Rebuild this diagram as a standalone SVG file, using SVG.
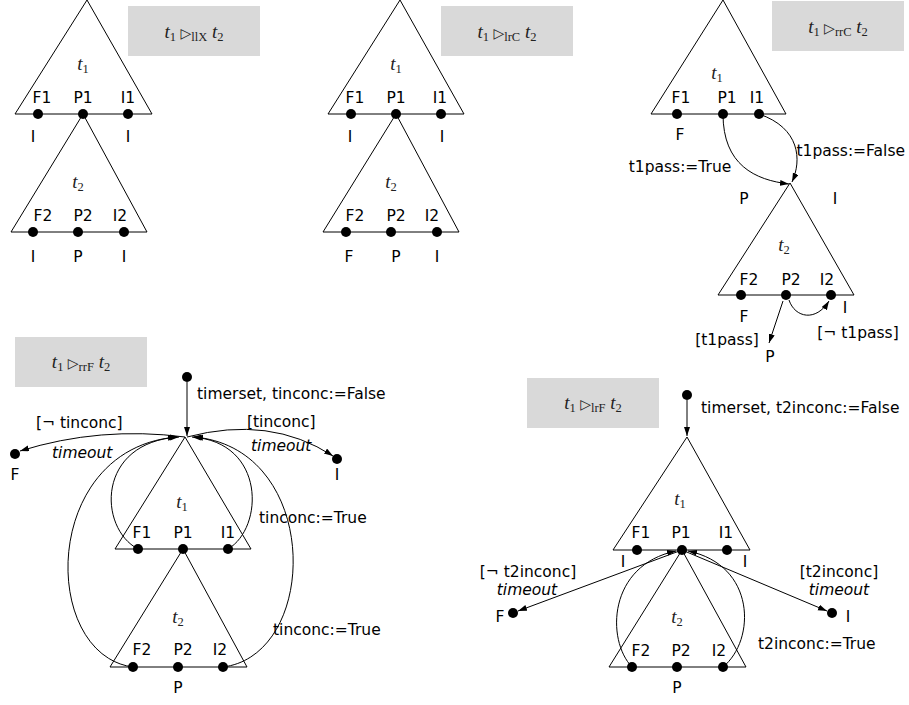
<svg xmlns="http://www.w3.org/2000/svg" width="909" height="705" viewBox="0 0 909 705">
<defs>
<style>
.tri{fill:none;stroke:#000;stroke-width:1}
.dot{fill:#000}
.box{fill:#d9d9d9}
.lbl{font-family:"DejaVu Sans","Liberation Sans",sans-serif;font-size:15.5px;fill:#000;text-anchor:middle}
.lbs{font-family:"DejaVu Sans","Liberation Sans",sans-serif;font-size:15.5px;fill:#000}
.it{font-style:italic}
.math{font-family:"Liberation Serif","DejaVu Serif",serif;font-size:19px;fill:#222;text-anchor:middle}
.mi{font-style:italic}
.sub{font-size:12.5px}
.sym{font-family:"DejaVu Sans",sans-serif;font-size:14px}
.con{fill:none;stroke:#000;stroke-width:1}
.arr{marker-end:url(#ah)}
</style>
<marker id="ah" markerUnits="userSpaceOnUse" markerWidth="10" markerHeight="7" refX="9" refY="3" orient="auto">
<path d="M0,0 L9,3 L0,6 z" fill="#000"/>
</marker>
</defs>
<rect width="909" height="705" fill="#fff"/>

<!-- ===== Diagram 1: llX ===== -->
<g id="d1-title">
<rect class="box" x="128" y="6" width="132" height="50"/>
<text class="math" x="194" y="38"><tspan class="mi">t</tspan><tspan class="sub" dy="3">1</tspan><tspan class="sym" dy="-3"> ▷</tspan><tspan class="sub" dy="3">llX</tspan><tspan dy="-3"> </tspan><tspan class="mi">t</tspan><tspan class="sub" dy="3">2</tspan></text>
</g>
<g id="d1-t1">
<polygon class="tri" points="87,0 15,114 152,114"/>
<text class="math" x="83" y="70"><tspan class="mi">t</tspan><tspan class="sub" dy="3">1</tspan></text>
<text class="lbl" x="42" y="103">F1</text><text class="lbl" x="83" y="103">P1</text><text class="lbl" x="128" y="103">I1</text>
<circle class="dot" cx="38" cy="114" r="5"/><circle class="dot" cx="83" cy="114" r="5"/><circle class="dot" cx="128" cy="114" r="5"/>
<text class="lbl" x="33" y="142">I</text><text class="lbl" x="128" y="142">I</text>
</g>
<g id="d1-t2">
<polygon class="tri" points="83,114 11,232 147,232"/>
<text class="math" x="78" y="188"><tspan class="mi">t</tspan><tspan class="sub" dy="3">2</tspan></text>
<text class="lbl" x="43" y="221">F2</text><text class="lbl" x="83" y="221">P2</text><text class="lbl" x="120" y="221">I2</text>
<circle class="dot" cx="33" cy="232" r="5"/><circle class="dot" cx="78" cy="232" r="5"/><circle class="dot" cx="124" cy="232" r="5"/>
<text class="lbl" x="33" y="262">I</text><text class="lbl" x="78" y="262">P</text><text class="lbl" x="124" y="262">I</text>
</g>

<!-- ===== Diagram 2: lrC ===== -->
<g id="d2-title">
<rect class="box" x="441" y="6" width="132" height="50"/>
<text class="math" x="507" y="38"><tspan class="mi">t</tspan><tspan class="sub" dy="3">1</tspan><tspan class="sym" dy="-3"> ▷</tspan><tspan class="sub" dy="3">lrC</tspan><tspan dy="-3"> </tspan><tspan class="mi">t</tspan><tspan class="sub" dy="3">2</tspan></text>
</g>
<g id="d2-t1">
<polygon class="tri" points="400,0 328,114 464,114"/>
<text class="math" x="396" y="70"><tspan class="mi">t</tspan><tspan class="sub" dy="3">1</tspan></text>
<text class="lbl" x="355" y="103">F1</text><text class="lbl" x="396" y="103">P1</text><text class="lbl" x="440" y="103">I1</text>
<circle class="dot" cx="351" cy="114" r="5"/><circle class="dot" cx="396" cy="114" r="5"/><circle class="dot" cx="441" cy="114" r="5"/>
<text class="lbl" x="350" y="142">I</text><text class="lbl" x="442" y="142">I</text>
</g>
<g id="d2-t2">
<polygon class="tri" points="396,114 323,232 459,232"/>
<text class="math" x="391" y="188"><tspan class="mi">t</tspan><tspan class="sub" dy="3">2</tspan></text>
<text class="lbl" x="355" y="221">F2</text><text class="lbl" x="396" y="221">P2</text><text class="lbl" x="432" y="221">I2</text>
<circle class="dot" cx="346" cy="232" r="5"/><circle class="dot" cx="391" cy="232" r="5"/><circle class="dot" cx="437" cy="232" r="5"/>
<text class="lbl" x="349" y="262">F</text><text class="lbl" x="396" y="262">P</text><text class="lbl" x="437" y="262">I</text>
</g>

<!-- ===== Diagram 3: rrC ===== -->
<g id="d3-title">
<rect class="box" x="772" y="1" width="132" height="50"/>
<text class="math" x="838" y="33"><tspan class="mi">t</tspan><tspan class="sub" dy="3">1</tspan><tspan class="sym" dy="-3"> ▷</tspan><tspan class="sub" dy="3">rrC</tspan><tspan dy="-3"> </tspan><tspan class="mi">t</tspan><tspan class="sub" dy="3">2</tspan></text>
</g>
<g id="d3-t1">
<polygon class="tri" points="723,0 651,114 786,114"/>
<text class="math" x="717" y="79"><tspan class="mi">t</tspan><tspan class="sub" dy="3">1</tspan></text>
<text class="lbl" x="681" y="103">F1</text><text class="lbl" x="727" y="103">P1</text><text class="lbl" x="757" y="103">I1</text>
<circle class="dot" cx="677" cy="114" r="5"/><circle class="dot" cx="723" cy="114" r="5"/><circle class="dot" cx="759" cy="114" r="5"/>
<text class="lbl" x="680" y="140">F</text>
</g>
<g id="d3-t2">
<polygon class="tri" points="790,183 718,295 854,295"/>
<text class="math" x="784" y="251"><tspan class="mi">t</tspan><tspan class="sub" dy="3">2</tspan></text>
<text class="lbl" x="749" y="285">F2</text><text class="lbl" x="791" y="285">P2</text><text class="lbl" x="827" y="285">I2</text>
<circle class="dot" cx="741" cy="295" r="5"/><circle class="dot" cx="786" cy="295" r="5"/><circle class="dot" cx="831" cy="295" r="5"/>
<text class="lbl" x="744" y="204">P</text><text class="lbl" x="835" y="204">I</text>
<text class="lbl" x="744" y="322">F</text><text class="lbl" x="845" y="313">I</text>
<text class="lbl" x="770" y="362">P</text>
</g>

<!-- ===== Diagram 4: rrF ===== -->
<g id="d4-title">
<rect class="box" x="15" y="337" width="132" height="50"/>
<text class="math" x="81" y="368"><tspan class="mi">t</tspan><tspan class="sub" dy="3">1</tspan><tspan class="sym" dy="-3"> ▷</tspan><tspan class="sub" dy="3">rrF</tspan><tspan dy="-3"> </tspan><tspan class="mi">t</tspan><tspan class="sub" dy="3">2</tspan></text>
</g>
<g id="d4-start"><circle class="dot" cx="187" cy="377" r="5"/></g>
<g id="d4-F"><circle class="dot" cx="15" cy="454" r="5"/><text class="lbl" x="15" y="480">F</text></g>
<g id="d4-I"><circle class="dot" cx="337" cy="459" r="5"/><text class="lbl" x="337" y="480">I</text></g>
<g id="d4-t1">
<polygon class="tri" points="185,437 115,549 251,549"/>
<text class="math" x="182" y="508"><tspan class="mi">t</tspan><tspan class="sub" dy="3">1</tspan></text>
<text class="lbl" x="142" y="538">F1</text><text class="lbl" x="183" y="538">P1</text><text class="lbl" x="228" y="538">I1</text>
<circle class="dot" cx="138" cy="549" r="5"/><circle class="dot" cx="183" cy="549" r="5"/><circle class="dot" cx="228" cy="549" r="5"/>
</g>
<g id="d4-t2">
<polygon class="tri" points="183,549 110,667 247,667"/>
<text class="math" x="178" y="623"><tspan class="mi">t</tspan><tspan class="sub" dy="3">2</tspan></text>
<text class="lbl" x="142" y="655">F2</text><text class="lbl" x="183" y="655">P2</text><text class="lbl" x="220" y="655">I2</text>
<circle class="dot" cx="133" cy="667" r="5"/><circle class="dot" cx="178" cy="667" r="5"/><circle class="dot" cx="223" cy="667" r="5"/>
<text class="lbl" x="178" y="693">P</text>
</g>

<!-- ===== Diagram 5: lrF ===== -->
<g id="d5-title">
<rect class="box" x="527" y="378" width="132" height="50"/>
<text class="math" x="593" y="409"><tspan class="mi">t</tspan><tspan class="sub" dy="3">1</tspan><tspan class="sym" dy="-3"> ▷</tspan><tspan class="sub" dy="3">lrF</tspan><tspan dy="-3"> </tspan><tspan class="mi">t</tspan><tspan class="sub" dy="3">2</tspan></text>
</g>
<g id="d5-start"><circle class="dot" cx="687" cy="395" r="5"/></g>
<g id="d5-F"><circle class="dot" cx="513" cy="613" r="5"/><text class="lbl" x="500" y="622">F</text></g>
<g id="d5-I"><circle class="dot" cx="832" cy="613" r="5"/><text class="lbl" x="848" y="622">I</text></g>
<g id="d5-t1">
<polygon class="tri" points="687,437 613,550 750,550"/>
<text class="math" x="680" y="505"><tspan class="mi">t</tspan><tspan class="sub" dy="3">1</tspan></text>
<text class="lbl" x="641" y="538">F1</text><text class="lbl" x="681" y="538">P1</text><text class="lbl" x="726" y="538">I1</text>
<circle class="dot" cx="637" cy="550" r="5"/><circle class="dot" cx="682" cy="550" r="5"/><circle class="dot" cx="727" cy="550" r="5"/>
<text class="lbl" x="623" y="567">I</text><text class="lbl" x="745" y="567">I</text>
</g>
<g id="d5-t2">
<polygon class="tri" points="682,550 609,667 746,667"/>
<text class="math" x="677" y="623"><tspan class="mi">t</tspan><tspan class="sub" dy="3">2</tspan></text>
<text class="lbl" x="641" y="656">F2</text><text class="lbl" x="681" y="656">P2</text><text class="lbl" x="719" y="656">I2</text>
<circle class="dot" cx="632" cy="667" r="5"/><circle class="dot" cx="677" cy="667" r="5"/><circle class="dot" cx="723" cy="667" r="5"/>
<text class="lbl" x="677" y="693">P</text>
</g>

<!-- ===== Connectors ===== -->
<g id="connectors">
<!-- diagram 3 -->
<path class="con arr" d="M723,114 C723,165 755,180 789,184"/>
<path class="con arr" d="M759,114 C800,128 802,160 792,182"/>
<path class="con arr" d="M783,301 L769,343"/>
<path class="con arr" d="M789,300 C795,318 816,322 829,301"/>
<!-- diagram 4 -->
<path class="con arr" d="M187,382 L187,436"/>
<path class="con arr" d="M185,437 Q100,426 20,451"/>
<path class="con arr" d="M187,437 Q270,415 333,456"/>
<path class="con arr" d="M138,549 C98,528 96,442 179,437"/>
<path class="con arr" d="M228,549 C264,528 266,442 192,437"/>
<path class="con arr" d="M133,667 C40,655 40,448 177,437"/>
<path class="con arr" d="M223,667 C320,655 322,448 194,437"/>
<!-- diagram 5 -->
<path class="con arr" d="M687,400 L687,436"/>
<path class="con arr" d="M682,550 L518,611"/>
<path class="con arr" d="M682,550 L827,611"/>
<path class="con arr" d="M632,667 C606,640 608,565 676,551"/>
<path class="con arr" d="M723,667 C756,640 756,565 688,551"/>
</g>

<g id="connector-labels">
<text class="lbl" x="680" y="172">t1pass:=True</text>
<text class="lbs" x="905" y="156" text-anchor="end">t1pass:=False</text>
<text class="lbl" x="727" y="345">[t1pass]</text>
<text class="lbl" x="858" y="338">[¬ t1pass]</text>
<text class="lbs" x="197" y="399">timerset, tinconc:=False</text>
<text class="lbs" x="36" y="428">[¬ tinconc]</text>
<text class="lbs it" x="52" y="458">timeout</text>
<text class="lbs" x="247" y="427">[tinconc]</text>
<text class="lbs it" x="251" y="451">timeout</text>
<text class="lbs" x="259" y="523">tinconc:=True</text>
<text class="lbs" x="273" y="635">tinconc:=True</text>
<text class="lbs" x="701" y="413">timerset, t2inconc:=False</text>
<text class="lbl" x="528" y="577">[¬ t2inconc]</text>
<text class="lbl it" x="527" y="595">timeout</text>
<text class="lbl" x="839" y="577">[t2inconc]</text>
<text class="lbl it" x="839" y="595">timeout</text>
<text class="lbs" x="758" y="649">t2inconc:=True</text>
</g>
</svg>
